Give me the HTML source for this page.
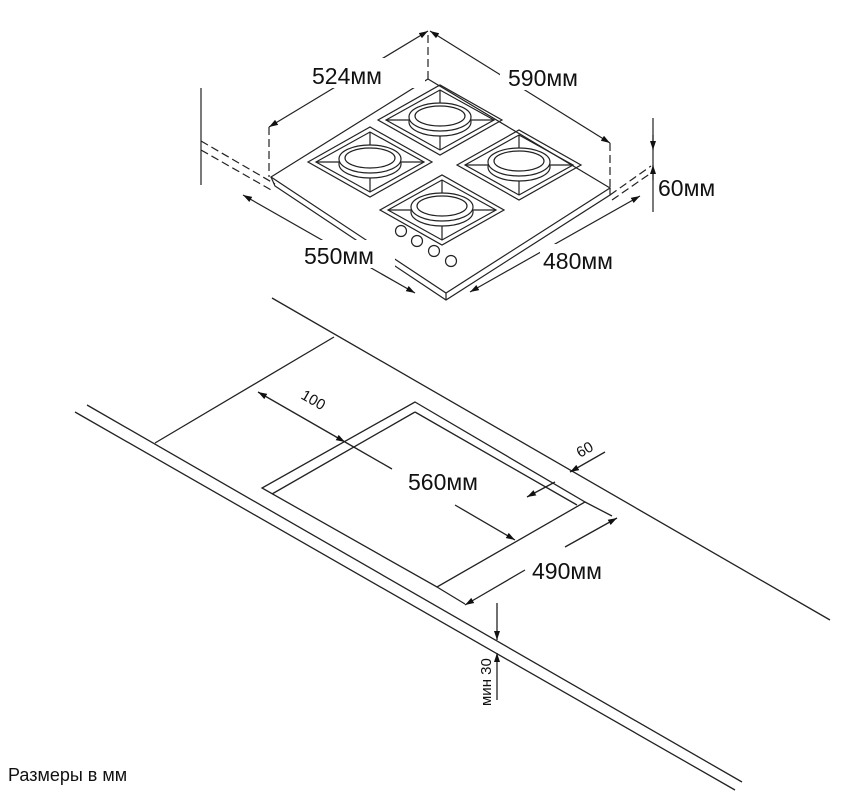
<!DOCTYPE html>
<html><head><meta charset="utf-8"><style>
html,body{margin:0;padding:0;background:#fff;}
svg{display:block;}
text{font-family:"Liberation Sans",sans-serif;fill:#111;}
</style></head><body>
<svg width="863" height="802" viewBox="0 0 863 802" xmlns="http://www.w3.org/2000/svg">
<defs>
<marker id="a" markerWidth="10" markerHeight="8" refX="9" refY="4" orient="auto-start-reverse" markerUnits="userSpaceOnUse">
<path d="M0,1 L9,4 L0,7 Z" fill="#111"/></marker>
<g id="grate" fill="none" stroke="#222" stroke-width="1.2">
<polygon points="-62,0 0,-35 62,0 0,35"/>
<polygon points="-54,0 0,-30 54,0 0,30"/>
<ellipse cx="0" cy="2" rx="31" ry="14"/>
<ellipse cx="0" cy="-3" rx="31" ry="14" fill="#fff"/>
<ellipse cx="0" cy="-4" rx="25" ry="10"/>
<path d="M-54,0 H-31 M31,0 H54 M0,-30 V-17 M0,16 V30"/>
</g>
</defs>
<g fill="none" stroke="#222" stroke-width="1.2">
<polygon points="428,79 610,188 446,293 271,177" fill="#fff"/>
<path d="M271,177 L275,186 L446,300 L610,195 L610,188 M446,293 L446,300"/>
<g stroke-dasharray="8,4">
<path d="M428,79 V31 M269,127 V177 M610,143 V188"/>
<path d="M201,141 L275,184 M201,150 L273,191"/>
<path d="M610,195 L651,166 M612,200 L651,173"/>
</g>
<path d="M201,88 V185 M653,118 V212"/>
<path d="M428,31 L269,127" marker-start="url(#a)" marker-end="url(#a)"/>
<path d="M430,31 L610,143" marker-start="url(#a)" marker-end="url(#a)"/>
<path d="M243,195 L415,293" marker-start="url(#a)" marker-end="url(#a)"/>
<path d="M640,196 L470,292" marker-start="url(#a)" marker-end="url(#a)"/>
<path d="M653,135 V150" marker-end="url(#a)"/>
<path d="M653,180 V165" marker-end="url(#a)"/>
</g>
<rect x="305" y="58" width="120" height="30" fill="#fff"/>
<rect x="500" y="60" width="110" height="30" fill="#fff"/>
<rect x="300" y="240" width="95" height="28" fill="#fff"/>
<rect x="540" y="244" width="95" height="28" fill="#fff"/>
<use href="#grate" transform="translate(440,120)"/>
<use href="#grate" transform="translate(370,162)"/>
<use href="#grate" transform="translate(519,165)"/>
<use href="#grate" transform="translate(442,210)"/>
<g fill="#fff" stroke="#222" stroke-width="1.2">
<circle cx="401" cy="231" r="5.5"/><circle cx="417" cy="241" r="5.5"/>
<circle cx="434" cy="251" r="5.5"/><circle cx="451" cy="261" r="5.5"/>
</g>
<text x="312" y="84" font-size="23">524мм</text>
<text x="508" y="86" font-size="23">590мм</text>
<text x="658" y="196" font-size="23">60мм</text>
<text x="304" y="264" font-size="23">550мм</text>
<text x="543" y="269" font-size="23">480мм</text>

<g fill="none" stroke="#222" stroke-width="1.3">
<path d="M272,298 L830,620"/>
<path d="M87,405 L742,782"/>
<path d="M75,412 L735,790"/>
<path d="M155,443 L334,337"/>
<polygon points="415,402 585,502 437,587 262,488"/>
<path d="M415,412 L272,494 M415,412 L577,505"/>
<path d="M258,392 L345,442" marker-start="url(#a)" marker-end="url(#a)"/>
<path d="M345,442 L392,469"/>
<path d="M455,505 L515,540" marker-end="url(#a)"/>
<path d="M527,497 L555,482" marker-start="url(#a)"/>
<path d="M605,452 L570,472" marker-end="url(#a)"/>
<path d="M585,502 L612,516 M437,587 L465,604"/>
<path d="M617,518 L565,547" marker-start="url(#a)"/>
<path d="M525,570 L465,605" marker-end="url(#a)"/>
<path d="M497,603 V640" marker-end="url(#a)"/>
<path d="M497,700 V653" marker-end="url(#a)"/>
</g>
<text transform="translate(300,398) rotate(30)" font-size="15">100</text>
<text transform="translate(580,458) rotate(-30)" font-size="15">60</text>
<text x="408" y="490" font-size="23">560мм</text>
<text x="532" y="579" font-size="23">490мм</text>
<text transform="translate(491,706) rotate(-90)" font-size="15">мин 30</text>
<text x="8" y="781" font-size="18">Размеры в мм</text>
</svg>
</body></html>
